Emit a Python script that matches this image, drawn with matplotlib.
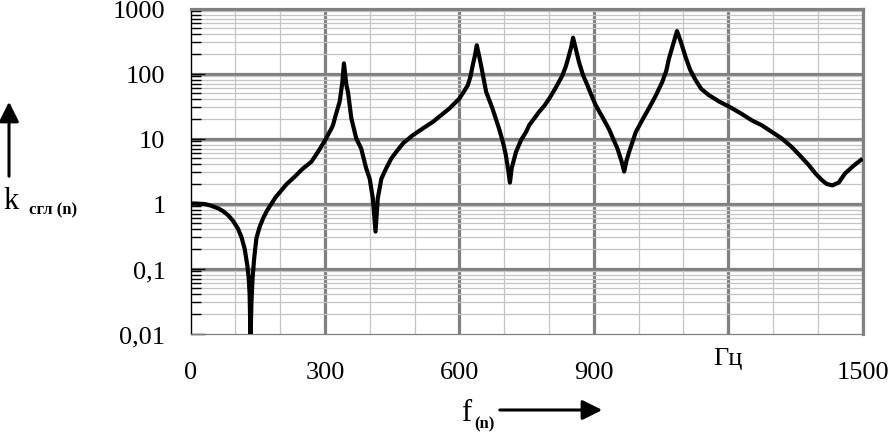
import matplotlib
matplotlib.use("Agg")
import matplotlib.pyplot as plt
from matplotlib.ticker import FixedLocator, NullFormatter, LogLocator

plt.rcParams['font.family'] = ['Liberation Serif', 'DejaVu Serif']

freq = [0, 10, 20, 32, 45, 62, 73, 84, 95, 106, 114, 121, 127, 130, 132, 134,
        136, 138.5, 142, 147, 154, 162, 171, 181, 190, 203, 215, 233, 250, 270,
        285, 300, 314, 318, 325, 333, 339, 342.5,
        348, 351.5, 359, 370, 381, 392, 400, 407, 413,
        418, 426, 437, 448, 459, 475, 496, 520, 541, 560, 578, 590, 600, 612,
        619, 625, 630, 635, 639,
        644, 648.5, 654, 660, 674, 689, 698, 704, 710, 713,
        717, 726.5, 738, 749, 756, 778, 790, 800.6, 815, 830, 838, 845, 850, 854,
        860, 867, 876, 886, 895, 905, 920, 934, 953, 962, 968,
        973, 979, 994, 1008, 1023, 1038, 1053, 1062, 1068, 1078, 1086,
        1095, 1105, 1115, 1127, 1140, 1157, 1180, 1202, 1230, 1253, 1275, 1298,
        1320, 1342, 1360, 1380, 1395, 1409, 1420, 1433, 1447, 1461, 1480, 1500]
k_sgl = [1.0, 1.0, 0.99, 0.98, 0.93, 0.84, 0.76, 0.66, 0.54, 0.41, 0.3, 0.2, 0.11, 0.07, 0.04, 0.008,
         0.03, 0.07, 0.14, 0.29, 0.43, 0.59, 0.78, 1.0, 1.25, 1.6, 2.0, 2.6, 3.4, 4.4,
         6.3, 9.3, 14, 16, 24, 37, 74, 143,
         66, 52, 20.5, 10, 7, 3.5, 2.4, 1.2, 0.37,
         1.2, 2.4, 3.5, 4.9, 6.2, 8.5, 11.2, 14.5, 18, 23, 29, 35, 41, 55,
         66, 90, 134, 190, 272,
         190, 134, 85, 52, 29, 14, 8.5, 5.5, 3.0, 2.1,
         3.5, 6.2, 9.5, 12.6, 16, 25.6, 32, 41, 60, 93, 130, 192, 260, 355,
         240, 151, 95, 66, 46, 32, 21, 14, 7, 4.5, 3.1,
         4.5, 6.2, 12.6, 19, 29, 45, 74, 110, 170, 290, 450,
         300, 180, 115, 80, 58, 46.5, 37, 31, 24, 19, 16, 12.6,
         10, 7.4, 5.5, 3.9, 2.9, 2.3, 2.0, 1.9, 2.1, 2.9, 3.8, 4.9]

x_major = [0, 300, 600, 900, 1200, 1500]
x_labels = ['0', '300', '600', '900', '', '1500']
x_minor = [100, 200, 400, 500, 700, 800, 1000, 1100, 1300, 1400]
y_major = [0.01, 0.1, 1, 10, 100, 1000]
y_labels = ['0,01', '0,1', '1', '10', '100', '1000']
unit_label = 'Гц'
y_name = 'k'
y_sub = 'сгл (n)'
x_name = 'f'
x_sub = '(n)'

W, H = 894, 435
fig = plt.figure(figsize=(W / 100, H / 100), dpi=100)
L, R, T, B = 190.5, 862.5, 9.5, 334.5
ax = fig.add_axes([L / W, 1 - B / H, (R - L) / W, (B - T) / H])

ax.set_xlim(0, 1500)
ax.set_yscale('log')
ax.set_ylim(0.01, 1000)

major_grey = '#808080'
minor_grey = '#c4c4c4'

ax.xaxis.set_major_locator(FixedLocator(x_major))
ax.xaxis.set_minor_locator(FixedLocator(x_minor))
ax.set_xticklabels(x_labels)
ax.yaxis.set_major_locator(FixedLocator(y_major))
ax.yaxis.set_minor_locator(LogLocator(base=10, subs=range(2, 10)))
ax.yaxis.set_minor_formatter(NullFormatter())
ax.set_yticklabels(y_labels)

ax.grid(which='major', color=major_grey, linewidth=2.3)
ax.grid(which='minor', color=minor_grey, linewidth=0.9)
ax.set_axisbelow(True)

# hide gridlines coinciding with left / bottom edges
for t in ax.xaxis.get_major_ticks():
    if t.get_loc() == 0:
        t.gridline.set_visible(False)
for t in ax.yaxis.get_major_ticks():
    if t.get_loc() == 0.01:
        t.gridline.set_visible(False)

ax.tick_params(axis='x', which='both', length=0, pad=20, labelsize=19)
ax.tick_params(axis='y', which='major', direction='in', length=10, width=1,
               color='black', pad=18, labelsize=19)
ax.tick_params(axis='y', which='minor', direction='in', length=7, width=1,
               color='black')

for s in ['top', 'right']:
    ax.spines[s].set_color(major_grey)
    ax.spines[s].set_linewidth(2.3)
ax.spines['bottom'].set_color(major_grey)
ax.spines['bottom'].set_linewidth(0.9)
ax.spines['left'].set_color('black')
ax.spines['left'].set_linewidth(1.0)

ax.plot(freq, k_sgl, color='black', linewidth=3.0, solid_joinstyle='round',
        solid_capstyle='butt', zorder=5)

# unit label in place of the 1200 tick label
ax.text(1200, -0.075, unit_label, transform=ax.get_xaxis_transform(),
        ha='center', va='center', fontsize=19)


def fx(px):
    return px / W


def fy(py):
    return 1 - py / H


# y-axis name with arrow
fig.text(fx(3), fy(202), y_name, fontsize=22, ha='left', va='center')
fig.text(fx(29), fy(210), y_sub, fontsize=12, fontweight='bold', ha='left',
         va='center')
fig.patches.append(matplotlib.patches.FancyArrowPatch(
    (fx(9), fy(180)), (fx(9), fy(100)), transform=fig.transFigure,
    arrowstyle='-|>,head_length=0.6,head_width=0.3', mutation_scale=20,
    color='black', linewidth=2.2))

# x-axis name with arrow
fig.text(fx(461), fy(414), x_name, fontsize=22, ha='left', va='center')
fig.text(fx(474), fy(424), x_sub, fontsize=12, fontweight='bold', ha='left',
         va='center')
fig.patches.append(matplotlib.patches.FancyArrowPatch(
    (fx(497), fy(411)), (fx(605), fy(411)), transform=fig.transFigure,
    arrowstyle='-|>,head_length=0.6,head_width=0.3', mutation_scale=20,
    color='black', linewidth=2.2))

fig.savefig('out.png', dpi=100)
